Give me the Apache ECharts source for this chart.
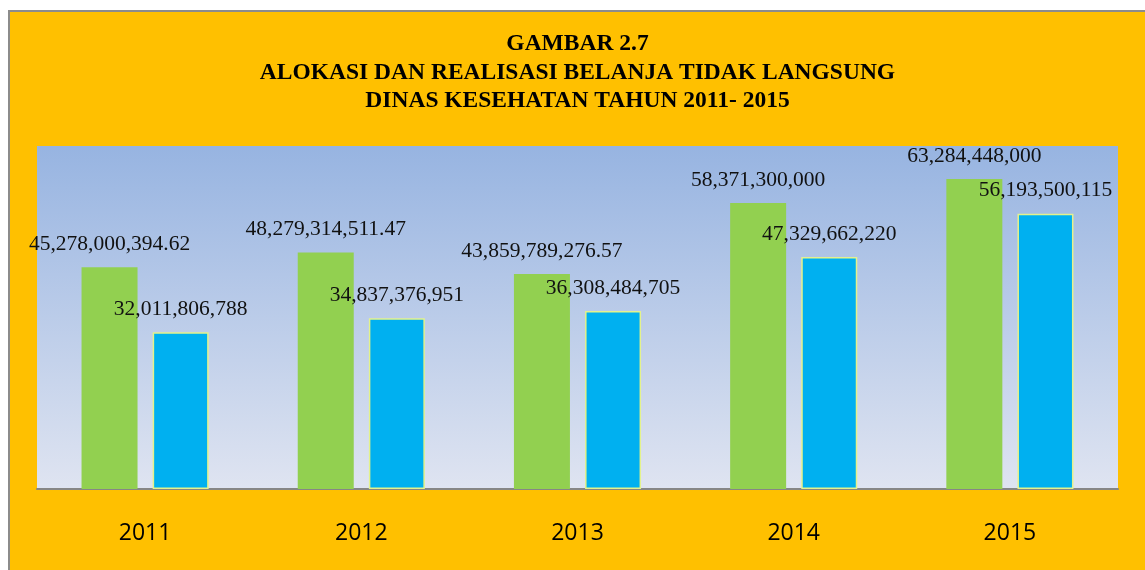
<!DOCTYPE html>
<html>
<head>
<meta charset="utf-8">
<script src="https://cdn.jsdelivr.net/npm/echarts@6/dist/echarts.min.js"></script>
<style>
  html, body { margin: 0; padding: 0; background: #fff; overflow: hidden; }
  #frame {
    position: absolute; left: 8px; top: 10px;
    width: 1145px; height: 570px;
    border-left: 2px solid #8c8c8c; border-top: 2px solid #8c8c8c;
    background: #ffc000;
  }
  #chart { width: 1135px; height: 558px; }
</style>
</head>
<body>
<div id="frame"><div id="chart"></div></div>
<script>
// data
const years = ['2011', '2012', '2013', '2014', '2015']
const alokasi = [45278000394.62, 48279314511.47, 43859789276.57, 58371300000, 63284448000]
const realisasi = [32011806788, 34837376951, 36308484705, 47329662220, 56193500115]
const titleLines = [
  'GAMBAR 2.7',
  'ALOKASI DAN REALISASI BELANJA TIDAK LANGSUNG',
  'DINAS KESEHATAN TAHUN 2011- 2015'
]

const myChart = echarts.init(document.getElementById('chart'))

// thousands separators, keep decimals as shown in the source
function fmt(v) {
  const parts = String(v).split('.')
  parts[0] = parts[0].replace(/\B(?=(\d{3})+(?!\d))/g, ',')
  return parts.join('.')
}

const valueLabel = {
  show: true,
  position: 'top',
  distance: 12,
  fontFamily: 'Liberation Serif',
  fontSize: 21.5,
  color: '#111',
  formatter: (p) => fmt(p.value)
}

const option = {
  animation: false,
  title: {
    text: titleLines.join('\n'),
    left: 'center',
    top: 13,
    textStyle: {
      fontFamily: 'Liberation Serif',
      fontWeight: 'bold',
      fontSize: 23.5,
      lineHeight: 28.5,
      color: '#000'
    }
  },
  grid: {
    left: 27,
    right: 27,
    top: 134,
    bottom: 81,
    show: true,
    borderWidth: 0,
    backgroundColor: new echarts.graphic.LinearGradient(0, 0, 0, 1, [
      { offset: 0, color: '#97b4e1' },
      { offset: 1, color: '#dfe4f1' }
    ])
  },
  xAxis: {
    type: 'category',
    data: years,
    axisLine: { lineStyle: { color: '#868686', width: 2 } },
    axisTick: { show: false },
    axisLabel: {
      margin: 33,
      fontFamily: 'Open Sans',
      fontSize: 23,
      color: '#000'
    }
  },
  yAxis: {
    type: 'value',
    min: 0,
    max: 70000000000,
    show: false,
    splitLine: { show: false }
  },
  series: [
    {
      name: 'Alokasi',
      type: 'bar',
      data: alokasi,
      barWidth: 56,
      barGap: '27%',
      itemStyle: { color: '#92d050' },
      label: valueLabel
    },
    {
      name: 'Realisasi',
      type: 'bar',
      data: realisasi,
      barWidth: 56,
      itemStyle: { color: '#00b0f0', borderColor: '#e4f28c', borderWidth: 1.5 },
      label: valueLabel
    }
  ]
}

myChart.setOption(option)
</script>
</body>
</html>
